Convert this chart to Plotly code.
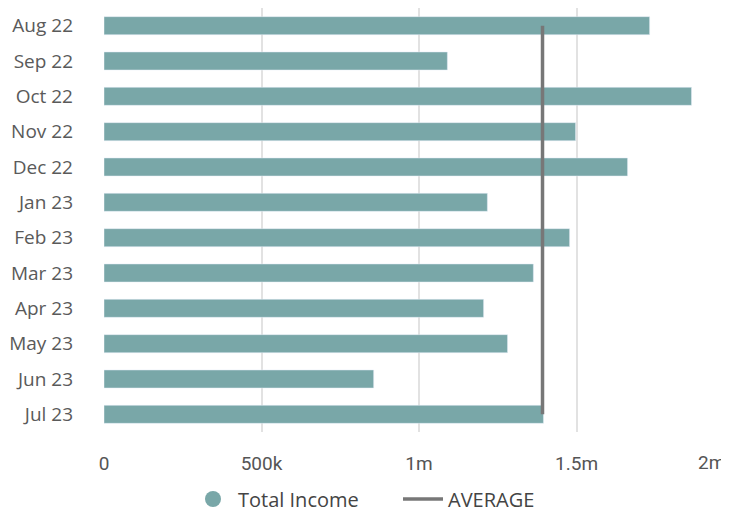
import plotly.graph_objects as go

months = ["Aug 22", "Sep 22", "Oct 22", "Nov 22", "Dec 22", "Jan 23",
          "Feb 23", "Mar 23", "Apr 23", "May 23", "Jun 23", "Jul 23"]
total_income = [1732000, 1090000, 1865000, 1497000, 1662000, 1217000,
                1478000, 1363000, 1205000, 1281000, 856000, 1395000]
average = [1392000, 1392000, 1392000, 1392000, 1392000, 1392000,
           1392000, 1392000, 1392000, 1392000, 1392000, 1392000]

tick_vals = [0, 500000, 1000000, 1500000]
tick_text = ["0", "500k", "1m", "1.5m"]
last_tick_text = "2m"

bar_color = "#79a7a8"
avg_color = "#777777"
font_family = "Open Sans, Noto Sans, sans-serif"
tick_family = "Roboto, Open Sans, sans-serif"

fig = go.Figure()
fig.add_trace(go.Bar(
    x=total_income, y=months, orientation="h",
    marker=dict(color=bar_color), width=0.51,
    name="Total Income", showlegend=False,
))
fig.add_trace(go.Scatter(
    x=[None], y=[None], mode="markers",
    marker=dict(color=bar_color, size=20, symbol="circle"),
    name="Total Income",
))
fig.add_trace(go.Scatter(
    x=average, y=months, mode="lines",
    line=dict(color=avg_color, width=3.5),
    name="AVERAGE",
))

# page body has an 8px margin, so the figure is drawn 8px in from the top-left
fig.update_layout(
    width=721, height=502,
    margin=dict(l=96, r=0, t=0, b=78, autoexpand=False),
    paper_bgcolor="white", plot_bgcolor="white",
    font=dict(family=font_family, color="#555555", size=16),
    legend=dict(orientation="h", x=0.1344, xanchor="left", y=-0.158, yanchor="middle",
                font=dict(size=20, color="#444444"), itemwidth=40,
                entrywidth=155, traceorder="normal"),
    showlegend=True,
)
fig.update_xaxes(
    range=[0, 1984000], tickvals=tick_vals, ticktext=tick_text,
    showgrid=True, gridcolor="#e2e2e2", gridwidth=2, zeroline=False,
    showline=False, ticks="", ticklabelstandoff=18, automargin=False,
    tickfont=dict(size=19, color="#555555", family=tick_family),
)
fig.update_yaxes(
    categoryorder="array", categoryarray=months, range=[11.5, -0.5],
    autorange=False,
    showgrid=False, zeroline=False, showline=False, ticks="",
    ticklabelstandoff=30, automargin=False,
    tickfont=dict(size=19, color="#5a5a5a"),
)
fig.add_annotation(
    x=0.947, y=0, xref="paper", yref="paper", yshift=-30,
    text=last_tick_text, showarrow=False, xanchor="left", yanchor="middle",
    font=dict(size=19, color="#555555", family=tick_family),
)

fig.write_html("out.html")
